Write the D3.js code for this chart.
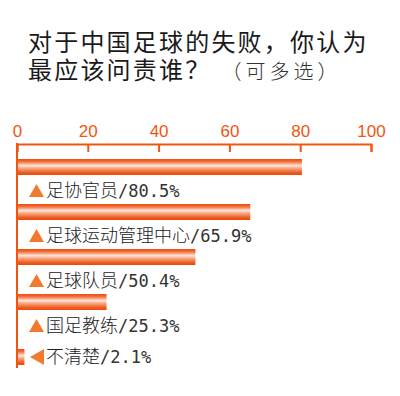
<!DOCTYPE html>
<html>
<head>
<meta charset="utf-8">
<script src="https://cdn.jsdelivr.net/npm/d3@7"></script>
<style>
  body { margin: 0; background: #fff; }
  svg { display: block; }
</style>
</head>
<body>
<div id="chart"></div>
<script>
// --- Data ---
const categories = ['足协官员', '足球运动管理中心', '足球队员', '国足教练', '不清楚'];
const values = [80.5, 65.9, 50.4, 25.3, 2.1];
const labelInline = [false, false, false, false, true];
const tickValues = [0, 20, 40, 60, 80, 100];
const titleLine1 = '对于中国足球的失败，你认为';
const titleLine2 = '最应该问责谁？';
const titleNote = '（可多选）';

const width = 400, height = 396;
const orange = '#f0560f';

const svg = d3.select('#chart').append('svg')
  .attr('width', width)
  .attr('height', height);

// gradient for bars
const defs = svg.append('defs');
const grad = defs.append('linearGradient')
  .attr('id', 'barGrad')
  .attr('x1', 0).attr('y1', 0).attr('x2', 0).attr('y2', 1);
grad.append('stop').attr('offset', '0%').attr('stop-color', '#f04c10');
grad.append('stop').attr('offset', '15%').attr('stop-color', '#f26a32');
grad.append('stop').attr('offset', '42%').attr('stop-color', '#fde6da');
grad.append('stop').attr('offset', '55%').attr('stop-color', '#f8b192');
grad.append('stop').attr('offset', '85%').attr('stop-color', '#f05a1c');
grad.append('stop').attr('offset', '100%').attr('stop-color', '#ea4a0c');

// --- Title ---
const title1 = svg.append('text')
  .attr('font-family', '"Noto Sans CJK SC", sans-serif')
  .attr('fill', '#1a1a1a')
  .attr('x', 28).attr('y', 51)
  .attr('font-size', 24)
  .attr('letter-spacing', 2.2)
  .text(titleLine1);

const title2 = svg.append('text')
  .attr('font-family', '"Noto Sans CJK SC", sans-serif')
  .attr('fill', '#1a1a1a')
  .attr('x', 28).attr('y', 79)
  .attr('font-size', 24)
  .attr('letter-spacing', 2.2);
title2.append('tspan').text(titleLine2);
title2.append('tspan')
  .attr('dx', 10)
  .attr('font-size', 20)
  .attr('font-weight', 300)
  .attr('letter-spacing', 4)
  .attr('fill', '#333')
  .text(titleNote);

// --- Scales ---
const x = d3.scaleLinear()
  .domain([0, 100])
  .range([17, 371]);

const y = d3.scaleBand()
  .domain(categories)
  .range([159, 159 + 45 * categories.length])
  .paddingInner(0)
  .paddingOuter(0);

const barH = 16;
const barY = (d, i) => y(d) + (labelInline[i] ? 10 : 0);

// --- Axis ---
const axisG = svg.append('g')
  .attr('transform', 'translate(0,144)')
  .call(d3.axisTop(x).tickValues(tickValues).tickSizeInner(-8).tickSizeOuter(-8).tickPadding(7));
axisG.selectAll('path, line')
  .attr('stroke', orange)
  .attr('stroke-width', 2);
axisG.selectAll('text')
  .attr('fill', orange)
  .attr('font-size', 17)
  .attr('font-family', '"Liberation Sans", Arial, sans-serif');

// left vertical line
svg.append('line')
  .attr('x1', x(0)).attr('x2', x(0))
  .attr('y1', 143).attr('y2', 368)
  .attr('stroke', orange)
  .attr('stroke-width', 2);

// --- Bars ---
svg.selectAll('.bar')
  .data(categories)
  .join('rect')
  .attr('class', 'bar')
  .attr('x', x(0) + 1)
  .attr('y', (d, i) => barY(d, i))
  .attr('width', (d, i) => x(values[i]) - x(0) - 1)
  .attr('height', barH)
  .attr('fill', 'url(#barGrad)');

// --- Labels ---
const labels = svg.selectAll('.label')
  .data(categories)
  .join('g')
  .attr('class', 'label')
  .attr('transform', (d, i) => {
    const cy = labelInline[i] ? barY(d, i) + barH / 2 : barY(d, i) + 32;
    return `translate(0,${cy})`;
  });

labels.append('path')
  .attr('d', (d, i) => labelInline[i]
    ? 'M30,0L44,-8L44,8Z'
    : 'M29,6L36.5,-7L44,6Z')
  .attr('fill', '#f27a2e');

const labelText = labels.append('text')
  .attr('x', 46)
  .attr('dy', '0.36em')
  .attr('font-family', '"Noto Sans CJK SC", sans-serif')
  .attr('font-size', 18)
  .attr('font-weight', 300)
  .attr('fill', '#222');
labelText.append('tspan').text(d => d);
labelText.append('tspan')
  .attr('font-family', '"DejaVu Sans Mono", monospace')
  .attr('font-size', 17)
  .attr('fill', '#333')
  .text((d, i) => `/${values[i]}%`);
</script>
</body>
</html>
